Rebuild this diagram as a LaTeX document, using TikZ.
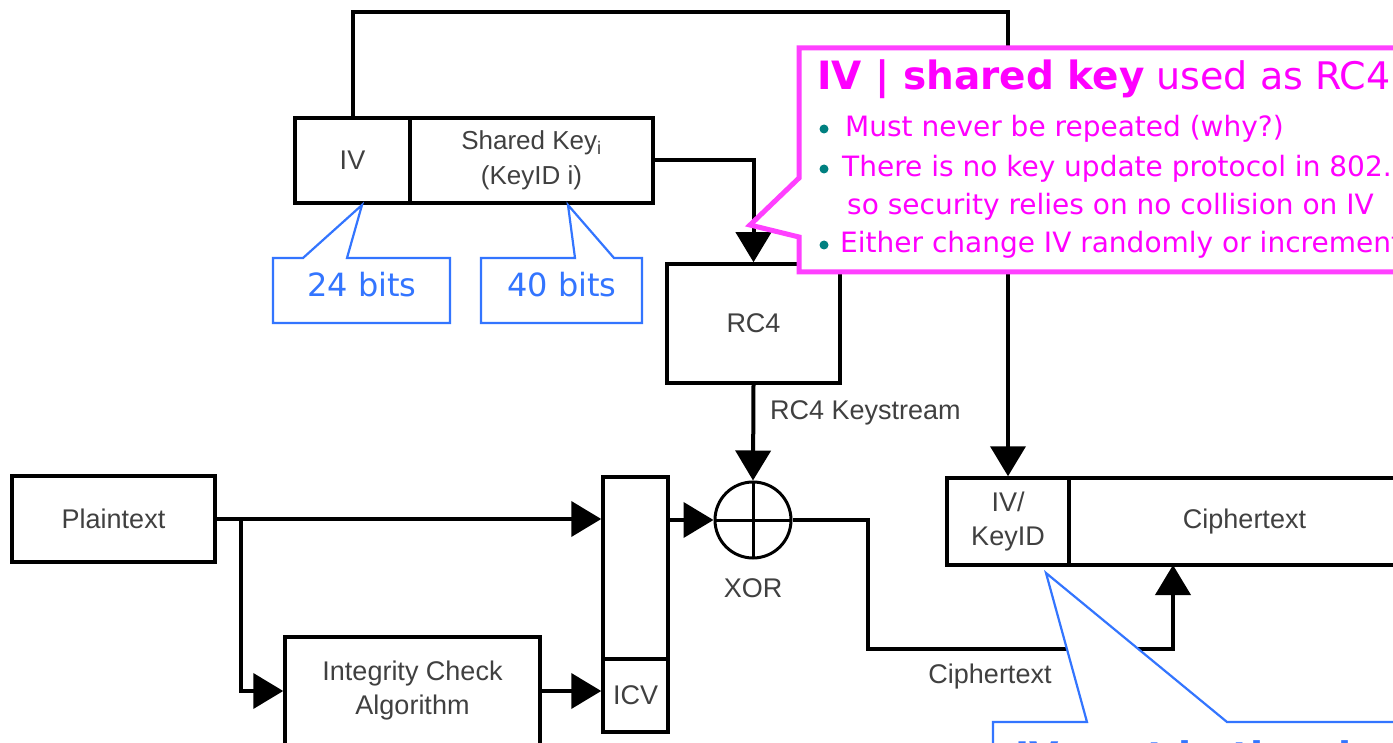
\documentclass[tikz,border=0pt]{standalone}
\usepackage{fontspec}
\setmainfont{Liberation Sans}
\newfontfamily\calfont{DejaVu Sans}
\usetikzlibrary{arrows.meta}
\definecolor{dgray}{RGB}{64,64,64}
\definecolor{calpink}{RGB}{255,64,255}
\definecolor{calmag}{RGB}{255,0,255}
\definecolor{calblue}{RGB}{51,117,255}
\definecolor{dotteal}{RGB}{0,128,128}
\newcommand{\diagfont}{\fontsize{27}{34}\selectfont}
\begin{document}
\begin{tikzpicture}[x=1pt,y=-1pt,
  box/.style={draw, line width=3.5pt, inner sep=0pt, text=dgray, font=\diagfont},
  lbl/.style={inner sep=0pt, text=dgray, font=\diagfont},
  arr/.style={line width=4pt, -{Triangle[length=30pt,width=35pt]}},
  pinkcall/.style={line width=5pt, draw=calpink, fill=white, line join=miter},
  bluecall/.style={line width=2.2pt, draw=calblue, fill=white, line join=miter},
  calline/.style={anchor=base west, inner sep=0pt, text=calmag, font=\calfont\fontsize{28}{34}\selectfont},
  tealdot/.style={circle, fill=dotteal, inner sep=0pt, minimum size=9pt},
  bluetxt/.style={anchor=base, inner sep=0pt, text=calblue, font=\calfont\fontsize{32}{38}\selectfont}]
\fill[white] (0,0) rectangle (1393,743);
\clip (0,0) rectangle (1393,743);

% boxes
\node[box, minimum width=115, minimum height=85] (iv) at (352.5,160.5) {IV};
\node[box, minimum width=243, minimum height=85, align=center, font=\fontsize{26}{35}\selectfont] (sk) at (531.5,160.5) {Shared Key\textsubscript{i}\\(KeyID i)};
\node[box, minimum width=173, minimum height=119] (rc4) at (753.5,323.5) {RC4};
\node[draw, circle, line width=3pt, minimum size=76pt, inner sep=0pt,
  path picture={\draw[line width=3pt] (path picture bounding box.north) -- (path picture bounding box.south)
                 (path picture bounding box.west) -- (path picture bounding box.east);}] (xor) at (753,520) {};
\node[box, minimum width=203, minimum height=86] (plain) at (113.5,519) {Plaintext};
\node[box, minimum width=65, minimum height=182] (col) at (635.5,568) {};
\node[box, minimum width=65, minimum height=73] (icv) at (635.5,695.5) {ICV};
\node[box, minimum width=255, minimum height=108, align=center] (ica) at (412.5,691) {Integrity Check\\Algorithm};
\node[box, minimum width=122, minimum height=87, align=center] (ivk) at (1008,521.5) {IV/\\KeyID};
\node[box, minimum width=351, minimum height=87] (ct) at (1244.5,521.5) {Ciphertext};

% labels
\node[lbl, anchor=west] (ksl) at (770,413) {RC4 Keystream};
\node[lbl] (xorl) at (753,588) {XOR};
\node[lbl] (ctl) at (990,677) {Ciphertext};

% connectors
\coordinate (top) at (0,12);
\draw[arr] (iv.north) -- (iv.north |- top) -| (ivk.north);
\draw[arr] (sk.east) -| (rc4.north);
\draw[arr] (rc4.south) -- (xor.north);
\draw[arr] (plain.east) -- (plain.east -| col.west);
\coordinate (br) at (241,519);
\draw[arr] (br) |- (ica.west);
\draw[arr] (ica.east) -- (ica.east -| icv.west);
\draw[arr] (xor.west -| col.east) -- (xor.west);
\coordinate (cturn) at (868,649);
\coordinate (ctin) at (1173,565);
\draw[arr] (xor.east) -| (cturn) -| (ctin);

% pink callout
\coordinate (ptip) at (750,225);
\draw[pinkcall] (799,48) -- (1420,48) -- (1420,272) -- (799,272) -- (799,237) -- (ptip) -- (799,178) -- cycle;
\node[anchor=base west, inner sep=0pt, text=calmag] (ttl) at (817,90)
  {\calfont\fontsize{39}{44}\selectfont\bfseries IV | shared key\fontsize{38}{44}\selectfont\mdseries\ used as RC4 key};
\node[tealdot] (d1) at (824,129) {};
\node[calline] (b1) at (845,137) {Must never be repeated (why?)};
\node[tealdot] (d2) at (824,169) {};
\node[calline] (b2) at (842,177) {There is no key update protocol in 802.11};
\node[calline] (b3) at (847,215) {so security relies on no collision on IV};
\node[tealdot] (d4) at (824,245) {};
\node[calline] (b4) at (840,253) {Either change IV randomly or increment};

% blue callouts
\coordinate (tip24) at (362,205);
\draw[bluecall] (273,258) -- (303,258) -- (tip24) -- (347,258) -- (450,258) -- (450,323) -- (273,323) -- cycle;
\node[bluetxt] (n24) at (362,297) {24 bits};
\coordinate (tip40) at (568,205);
\draw[bluecall] (481,258) -- (575,258) -- (tip40) -- (614,258) -- (642,258) -- (642,323) -- (481,323) -- cycle;
\node[bluetxt] (n40) at (562,297) {40 bits};
\coordinate (tipiv) at (1046,573);
\draw[bluecall] (993,722) -- (1087,722) -- (tipiv) -- (1227,722) -- (1420,722) -- (1420,780) -- (993,780) -- cycle;
\node[anchor=base west, inner sep=0pt, text=calblue, font=\calfont\fontsize{38}{44}\selectfont\bfseries] (nbot) at (1015,769) {IV sent in the clear};
\end{tikzpicture}
\end{document}
